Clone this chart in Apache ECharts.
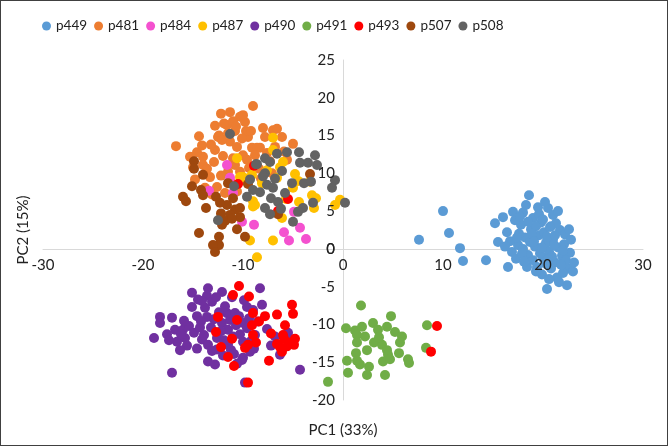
<!DOCTYPE html>
<html>
<head>
<meta charset="utf-8">
<script src="https://cdn.jsdelivr.net/npm/echarts@6/dist/echarts.min.js"></script>
<style>
  html, body { margin: 0; padding: 0; background: #fff; }
  #chart { width: 666px; height: 444px; border: 1px solid #404040; }
</style>
</head>
<body>
<div id="chart"></div>
<script>
const names = ['p449', 'p481', 'p484', 'p487', 'p490', 'p491', 'p493', 'p507', 'p508']
const colors = ['#5B9BD5', '#ED7D31', '#F451CF', '#FFC000', '#7030A0', '#70AD47', '#FF0000', '#9E480E', '#636363']
const xTicks = [-30, -20, -10, 0, 10, 20, 30]
const yTicks = [-20, -15, -10, -5, 0, 5, 10, 15, 20, 25]

const p449 = [[7.6,1.2],[10,5.0],[10.6,2.1],[11.7,0.1],[12,-1.6],[14.3,-1.5],[15.5,0.9],[16.5,-2.4],[18.6,7.1],[20.4,-5.3],
  [15.2,3.4],[16,4.2],[17,4.9],[18,4.8],[16.4,2.2],[16.9,-0.4],[17.5,0.5],[17.8,3.2],[18.2,1.5],[18.5,-0.8],
  [18.8,2.6],[19,4.1],[19.2,0.3],[19.4,-2.4],[19.6,1.8],[19.8,3.5],[20,-1.2],[20.1,2.2],[20.3,0.8],[20.5,5.4],
  [20.6,-0.3],[20.8,3.0],[21,4.5],[21,1.2],[21.2,-1.8],[21.4,-3.8],[21.5,0.2],[21.7,2.5],[21.9,-0.9],[22.2,1.9],
  [22.4,-4.8],[22.5,-2.6],[22.7,-0.5],[23,-3],[22,-3.2],[21.6,-4.4],[20.8,-2.6],[19.9,-3.4],[18.4,-2.4],[17.3,-1.3],
  [17.6,2.0],[18,0],[18.7,0.9],[19.3,3],[19.5,5.5],[20.2,6.2],[18.3,5.8],[17.2,3.8],[16.7,1],[19,-1.5],
  [20.4,1.6],[20.9,-1],[21.3,3.4],[22.1,0.6],[22.8,1.2],[22.3,-1.5],[21.8,-2.1],[20.6,-4],[19.7,-0.6],[18.9,2],
  [17.9,-0.6],[16.2,0.3],[17.4,1.5],[19.1,1],[20.7,2.9],[21.1,0.5],[19.6,4.6],[18.5,3.6],[20,3.9],[21.5,5],
  [22.6,2.6],[23.1,-1.8],[22,-0.2],[21.2,1.8],[19.3,-3],[20.3,-2],[18.1,-1.7],[17.7,4.3],[19.9,0.2],[20.5,-1.4]]

const p481 = [[-16.7,13.6],[-14.4,14.9],[-12.2,17.9],[-9,18.9],[-10.3,17.5],[-12.4,15],[-11.6,16.4],[-9.8,16.8],[-9.5,14.8],[-11.3,14.2],
  [-10.6,13.5],[-12.8,13.1],[-15.3,12.2],[-14,12.2],[-15,10.8],[-14,11.1],[-13.3,9.5],[-12.6,8.2],[-11.8,7.4],[-11.5,10.2],
  [-10.3,10.2],[-9.1,13.4],[-8.3,13.4],[-10,17.7],[-7.8,14.8],[-7,15.7],[-6.1,14.8],[-5,13.9],[-8.6,13.4],[-7.6,12.7],
  [-5.6,11.8],[-10,12.4],[-12.5,14.8],[-11,16.9],[-10.8,15.6],[-11.9,16.6],[-9.7,15.6],[-13.2,13.8],[-14.6,12.8],[-12,12.3],
  [-11,12],[-13.6,10.6],[-12.9,11.5],[-10.8,11.1],[-9.6,11.8],[-8.8,12.4],[-6.8,13.5],[-5.9,12.9],[-7.3,11.6],[-8.4,10.6],
  [-9.9,9.1],[-11.2,8.8],[-12.2,9.7],[-13.8,8.1],[-14.8,9.2],[-12.8,16.3],[-11.3,18.1],[-10.7,16.2],[-9.2,15.6],[-8,16.0],
  [-6.6,15.9],[-11.5,15.3],[-10.1,14.6],[-12.1,14.4],[-14.1,13.7],[-7.1,10.0],[-8.2,9.3],[-10.6,7.6],[-13.1,7.2],[-9.4,10.7]]

const p484 = [[-11.6,11.1],[-13.4,7.7],[-11,7.4],[-10.1,3.6],[-8.9,3.2],[-4.9,4.9],[-5.9,2.2],[-5.4,1.1],[-4.3,2.8],[-3.7,1.3],[-11.3,9.4]]

const p487 = [[-7,14.7],[-7,13.1],[-6.3,10.8],[-4.8,9.9],[-3.3,8.9],[-3.1,7.1],[-2.7,6.7],[-0.8,5.8],[-0.3,6.5],[-4.4,6.2],
  [-6.1,4.1],[-7,1.1],[-8.6,-1.1],[-9,5.6],[-9,6.3],[-9.3,1.1],[-10,9.5],[-9.1,9.8],[-8.1,8.7],[-6.6,9.4],
  [-5,8.1],[-4.5,9],[-10.6,12],[-10.3,9.5],[-9.3,9.4],[-8.8,5.8],[-7.6,10.4],[-5.7,6.6],[-2.9,5.4],[-6,11.5]]

const p490 = [[-18.9,-11.8],[-18.3,-9],[-18.3,-9.8],[-17.1,-9.1],[-17.1,-16.4],[-16.8,-10.7],[-16.6,-12.3],[-16,-10.7],[-15.8,-11.8],[-15.1,-5.8],
  [-14.5,-6.7],[-15.1,-7.7],[-13.5,-5.2],[-13.6,-6.2],[-13.1,-7],[-12.1,-5.7],[-14.6,-8.9],[-13.6,-9],[-14.1,-12],[-13.5,-12.7],
  [-12.6,-11.8],[-13.5,-14.9],[-12.8,-15.3],[-12.1,-9.8],[-11.6,-8.5],[-10.8,-8.5],[-11.5,-10.7],[-11.5,-12.7],[-11,-11.6],[-10,-14.4],
  [-9.8,-17.7],[-8.3,-5.2],[-8.1,-7.4],[-9.6,-7.7],[-9,-8.1],[-10,-9.8],[-8.8,-11.4],[-10,-12.3],[-9.3,-13.6],[-10.1,-14.7],
  [-5.5,-11.1],[-5.1,-12],[-4.3,-16],[-6.3,-14],[-16.2,-11.3],[-15.4,-10.2],[-15.6,-12.8],[-14.9,-11.1],[-14.3,-10.4],[-13.9,-11.4],
  [-13.2,-10.4],[-12.9,-9.3],[-12.4,-8.4],[-12.6,-13.3],[-11.9,-12.1],[-11.2,-13.4],[-10.7,-10.1],[-10.3,-11.3],[-9.6,-10.5],[-9.2,-12.2],
  [-8.5,-9.6],[-8.9,-13.2],[-9.4,-9.2],[-10.4,-8.9],[-11.3,-9.4],[-13.8,-7.8],[-14.2,-9.6],[-12.2,-10.9],[-11.8,-7.6],[-10.9,-13.9],
  [-12,-14.1],[-13.1,-13.5],[-14.6,-13.2],[-15.9,-9.5],[-17.6,-11.3],[-17.4,-12.1],[-7.6,-10.6],[-7.2,-12.8],[-6.8,-11.6],[-14.1,-6.9],
  [-11.1,-6.4],[-9.9,-6.8],[-12.7,-6.4],[-16.3,-13.4],[-10.6,-15.2]]

const p491 = [[1.8,-7.5],[4.8,-8.9],[0.3,-10.5],[1.2,-10.8],[1.9,-10.3],[3,-9.8],[3.5,-10.7],[4.4,-10.3],[5.2,-11],[5.9,-11.6],
  [5.7,-12.4],[1.4,-11.4],[1.4,-12.4],[3.1,-12.4],[2.4,-13.4],[3.9,-12.7],[4.4,-13.4],[4.5,-14],[5.6,-13.8],[1.3,-13.8],
  [1.4,-14.8],[0.4,-14.8],[1.7,-15.3],[2.6,-15.6],[4,-14.9],[4.7,-14.6],[6.5,-14.6],[6.6,-15.1],[0.5,-16.4],[2.4,-16.7],
  [4.2,-16.7],[-1.5,-17.6],[8.4,-10.1],[8.3,-13.1],[2.2,-11.6],[3.6,-11.7]]

const p493 = [[-10.4,-4.9],[-11,-6.1],[-9.4,-6.3],[-12.5,-9],[-10.6,-9.4],[-12.7,-11],[-11.1,-11.9],[-12.2,-13],[-11.5,-14.3],[-10.9,-15.5],
  [-9.8,-13.1],[-9.5,-17.7],[-9,-8.5],[-7.8,-8.9],[-9.1,-10.1],[-9,-11.4],[-9.5,-12.7],[-6.6,-8.7],[-5.1,-7.4],[-5,-8.6],
  [-5.8,-10.1],[-6,-11.4],[-4.8,-11.9],[-5.3,-12.4],[-6.3,-13],[-6.1,-13.6],[-6.6,-12.6],[-7.4,-14.8],[-8.4,-9.6],[-8.7,-12.4],
  [-7.2,-11.2],[-5.6,-12.9],[-4.9,-12.7],[-5.9,-11.9],[9.4,-10.2],[8.8,-13.6],[-8.9,11],[-10.5,8.6],[-5.5,6.6],[-6.5,5.0]]

const p507 = [[-14.9,11.6],[-14.9,10.6],[-14,9.8],[-15.1,8.3],[-14.2,7.8],[-16,6.9],[-15.7,6.3],[-14,7.1],[-12.7,6.9],[-13.7,5.4],
  [-11.5,8.7],[-11,6.7],[-11.6,5.8],[-10.8,5.2],[-11.3,4.5],[-10.3,5.4],[-11.8,3.7],[-12.1,3.2],[-10.3,4.2],[-10.6,2.6],
  [-9.8,1.6],[-12.4,1.6],[-14.4,2.1],[-12.4,0.5],[-13,0.5],[-12.8,-0.4],[-9.5,8.6],[-6.5,4.6],[-3.3,9.9],[-12.2,4.7],
  [-11.1,4.0],[-12.3,6.1]]

const p508 = [[-7.8,12],[-7.3,11.5],[-6.6,12.6],[-5.6,12.8],[-4.4,12.8],[-2.8,12.4],[-4.3,11.4],[-3.5,11.4],[-2.6,11.1],[-8.6,11.2],
  [-7.8,10],[-6.1,10.3],[-5.1,8.7],[-3.9,8.7],[-3.2,8.9],[-0.8,9.1],[-1.1,8.1],[0.2,6.1],[-3,6.1],[-4,5.4],
  [-4.5,4.9],[-5,3.6],[-9.6,6.9],[-9,7.8],[-8.3,7.5],[-7.6,8.5],[-7,8.1],[-7.2,6.7],[-6.5,6.2],[-7.8,5.4],
  [-7.3,4.6],[-11.3,15.2],[-10.9,8.3],[-8.7,11.2],[-12.5,3.8],[-6.8,9.3],[-5.8,7.4],[-8,9.6],[-6.2,5.3],[-9.3,9.2]]

const seriesData = [p449, p481, p484, p487, p490, p491, p493, p507, p508]

const font = 'Lato, "Open Sans", sans-serif'

// grid: plot spans x 42..642 and y 59..399 inside the 666x444 box
const gridLeft = 42, gridRight = 24, gridTop = 59, gridBottom = 45
const plotW = 666 - gridLeft - gridRight
const plotH = 444 - gridTop - gridBottom
// move both axes onto the zero lines (labels follow, like Excel)
const yOff = -plotW * (0 - xTicks[0]) / (xTicks[xTicks.length - 1] - xTicks[0])
const xOff = -plotH * (0 - yTicks[0]) / (yTicks[yTicks.length - 1] - yTicks[0])

const labelStyle = { fontSize: 15, color: '#222', hideOverlap: false, showMinLabel: true, showMaxLabel: true }
const xBase = {
  type: 'value',
  position: 'bottom',
  min: xTicks[0],
  max: xTicks[xTicks.length - 1],
  interval: 10,
  offset: xOff,
  axisTick: { show: false },
  splitLine: { show: false }
}
const yBase = {
  type: 'value',
  position: 'left',
  min: yTicks[0],
  max: yTicks[yTicks.length - 1],
  interval: 5,
  offset: yOff,
  axisTick: { show: false },
  splitLine: { show: false }
}

const chart = echarts.init(document.getElementById('chart'))
chart.setOption({
  animation: false,
  color: colors,
  textStyle: { fontFamily: font },
  legend: {
    top: 13,
    left: 36,
    icon: 'circle',
    itemWidth: 9,
    itemHeight: 9,
    itemGap: 7,
    textStyle: { fontSize: 13.5, color: '#222', fontFamily: font },
    data: names
  },
  grid: { left: gridLeft, right: gridRight, top: gridTop, bottom: gridBottom, containLabel: false, outerBoundsMode: 'none' },
  xAxis: [
    // line under the points
    Object.assign({}, xBase, {
      z: 0,
      axisLine: { onZero: false, lineStyle: { color: '#d9d9d9' } },
      axisLabel: { show: false }
    }),
    // labels and name above the points
    Object.assign({}, xBase, {
      z: 10,
      name: 'PC1 (33%)',
      nameLocation: 'middle',
      nameGap: 174,
      nameTextStyle: { fontSize: 15, color: '#222' },
      axisLine: { show: false, onZero: false },
      axisLabel: Object.assign({ margin: 9 }, labelStyle)
    })
  ],
  yAxis: [
    Object.assign({}, yBase, {
      z: 0,
      axisLine: { show: true, onZero: false, lineStyle: { color: '#d9d9d9' } },
      axisLabel: { show: false }
    }),
    Object.assign({}, yBase, {
      z: 10,
      name: 'PC2 (15%)',
      nameLocation: 'middle',
      nameGap: 312,
      nameRotate: 90,
      nameTextStyle: { fontSize: 15, color: '#222' },
      axisLine: { show: false, onZero: false },
      axisLabel: Object.assign({ margin: 8 }, labelStyle)
    })
  ],
  series: names.map((n, i) => ({
    name: n,
    type: 'scatter',
    symbolSize: 10,
    data: seriesData[i],
    itemStyle: { color: colors[i], opacity: 1 }
  }))
})

// the y "0" tick label sits where the axes cross and gets dropped; put it back from the scale
const origin = chart.convertToPixel({ xAxisIndex: 0, yAxisIndex: 0 }, [0, 0])
chart.setOption({
  graphic: [{
    type: 'text',
    x: origin[0] - 8,
    y: origin[1],
    z: 100,
    style: { text: '0', align: 'right', verticalAlign: 'middle', fontSize: 15, fill: '#222', fontFamily: font }
  }]
})
</script>
</body>
</html>
